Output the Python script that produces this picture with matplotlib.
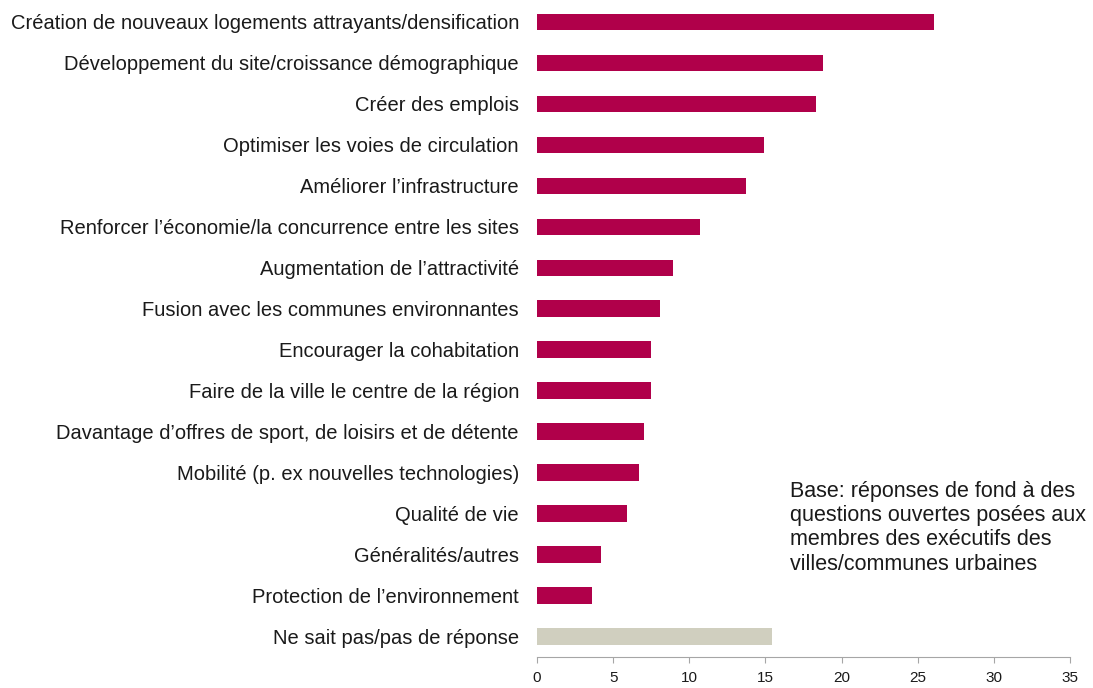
import matplotlib.pyplot as plt

plt.rcParams['font.family'] = ['Liberation Sans', 'DejaVu Sans']

categories = [
    "Création de nouveaux logements attrayants/densification",
    "Développement du site/croissance démographique",
    "Créer des emplois",
    "Optimiser les voies de circulation",
    "Améliorer l’infrastructure",
    "Renforcer l’économie/la concurrence entre les sites",
    "Augmentation de l’attractivité",
    "Fusion avec les communes environnantes",
    "Encourager la cohabitation",
    "Faire de la ville le centre de la région",
    "Davantage d’offres de sport, de loisirs et de détente",
    "Mobilité (p. ex nouvelles technologies)",
    "Qualité de vie",
    "Généralités/autres",
    "Protection de l’environnement",
    "Ne sait pas/pas de réponse",
]
values = [26.1, 18.8, 18.3, 14.9, 13.7, 10.7, 8.95, 8.1, 7.5, 7.5,
          7.0, 6.7, 5.9, 4.2, 3.6, 15.4]
colors = ['#B0004A'] * 15 + ['#D0CFBF']
x_ticks = [0, 5, 10, 15, 20, 25, 30, 35]

fig = plt.figure(figsize=(10.93, 6.88), dpi=100)
ax = fig.add_axes([0.4913, 0.0451, 0.979 - 0.4913, 0.998 - 0.0451])

y_pos = list(range(len(categories)))
ax.barh(y_pos, values, height=0.4, color=colors)
ax.set_ylim(15.5, -0.5)
ax.set_xlim(0, 35)
ax.set_xticks(x_ticks)
ax.set_yticks(y_pos)
ax.set_yticklabels(categories, fontsize=14.5, color='#1a1a1a')
ax.tick_params(axis='y', length=0, pad=13)
ax.tick_params(axis='x', length=4, color='#a6a6a6', labelsize=11,
               labelcolor='#1a1a1a', pad=6)

for side in ['top', 'right', 'left']:
    ax.spines[side].set_visible(False)
ax.spines['bottom'].set_color('#a6a6a6')

fig.text(790 / 1093, 1 - 481 / 688,
         "Base: réponses de fond à des\nquestions ouvertes posées aux\n"
         "membres des exécutifs des\nvilles/communes urbaines",
         fontsize=15.5, color='#1a1a1a', va='top', ha='left', linespacing=1.2)

fig.savefig('out.png', dpi=100)
